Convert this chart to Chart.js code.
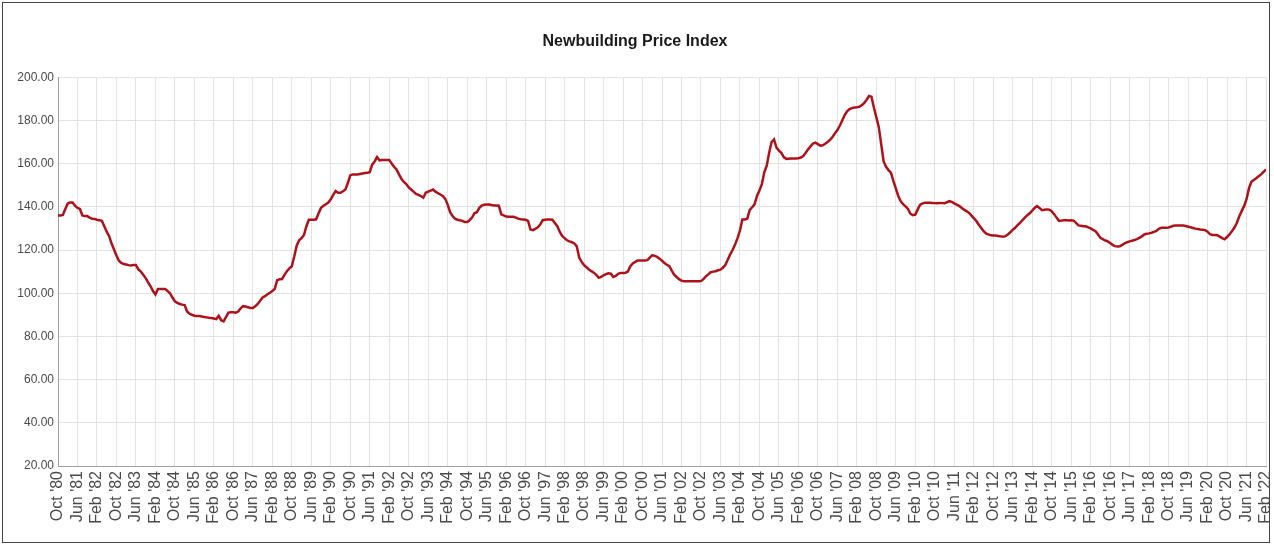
<!DOCTYPE html>
<html>
<head>
<meta charset="utf-8">
<script src="https://cdn.jsdelivr.net/npm/chart.js@4.4.0/dist/chart.umd.min.js"></script>
<style>
html,body{margin:0;padding:0;background:#fff;}
#wrap{position:absolute;left:0;top:0;width:1274px;height:547px;}
#frame{position:absolute;left:2px;top:2px;width:1268px;height:541px;border:1px solid #444;box-sizing:border-box;pointer-events:none;}
canvas{position:absolute;left:0;top:0;}
</style>
</head>
<body>
<div id="wrap"><canvas id="c" width="1274" height="547"></canvas><div id="frame"></div></div>
<script>
// Tick labels shown every 8 months (Oct '80 .. Feb '22)
const tickLabels = ["Oct '80","Jun '81","Feb '82","Oct '82","Jun '83","Feb '84","Oct '84","Jun '85","Feb '86","Oct '86","Jun '87","Feb '88","Oct '88","Jun '89","Feb '90","Oct '90","Jun '91","Feb '92","Oct '92","Jun '93","Feb '94","Oct '94","Jun '95","Feb '96","Oct '96","Jun '97","Feb '98","Oct '98","Jun '99","Feb '00","Oct '00","Jun '01","Feb '02","Oct '02","Jun '03","Feb '04","Oct '04","Jun '05","Feb '06","Oct '06","Jun '07","Feb '08","Oct '08","Jun '09","Feb '10","Oct '10","Jun '11","Feb '12","Oct '12","Jun '13","Feb '14","Oct '14","Jun '15","Feb '16","Oct '16","Jun '17","Feb '18","Oct '18","Jun '19","Feb '20","Oct '20","Jun '21","Feb '22"];

// Monthly index values, Oct 1980 onwards
const valuesPart1 = [
136,136,136.2,139,141.5,142,142,140.5,
139.5,139,136,135.7,135.7,135,134.5,134.4,
134,133.8,133.5,131,128.5,126.4,123,120.2,
117.5,115,114,113.5,113.3,113,112.8,113,
113,111,110,108.5,107,105,103.2,101,
99.4,102,102,102,102,101,100,98,
96.2,95.5,95,94.7,94.5,91.5,90.5,90,
89.6,89.5,89.4,89.2,89,88.8,88.6,88.5,
88.3,88,89.5,87.5,87,89,91,91.2,
91.2,91,91.5,93,94,93.8,93.5,93.2,
93.2,94,95,96.5,98,98.6,99.5,100.2,
101,102,106,106.5,106.6,108.5,110.2,111.5,
112.5,117,122,124.5,125.5,127,131,134,
134,134,134.2,137,139.5,140.5,141.2,142,
143.5,145.5,147.3,146.5,146.5,147.2,148,151,
154.5,155,155,155,155.2,155.4,155.6,155.8
];
const valuesPart2 = [
156,159.5,161,163,161.5,161.7,161.7,161.7,
161.7,160,158.5,157.3,155,153,151.5,150.5,
149,148,147,146,145.5,145,144.2,146.5,
147,147.5,148,147,146.3,145.7,145,143.7,
141,137.5,135.7,134.5,134,133.8,133.5,133,
133,133.8,135,137,137.5,139.5,140.6,141,
141.1,141.1,140.8,140.6,140.6,140.5,136.5,136,
135.5,135.4,135.4,135.4,135,134.5,134.2,134.1,
134,133.5,129.5,129.2,129.8,130.5,131.8,133.8,
134,134.1,134.1,134,132.5,131,128.5,126.5,
125.5,124.5,124,123.6,123,121.7,116.5,114.5,
113,112,111,110.2,109.5,108.5,107.1,107.5,
108.3,108.8,109.2,109,107.5,108,109,109.4,
109.4,109.5,110,112.5,113.8,114.5,115.1,115.1,
115.1,115.1,115.3,116.5,117.6,117.3,116.8,116,
115,114,113.2,112.5,110.5,108.6,107.5,106.5
];
const valuesPart3 = [
105.8,105.5,105.5,105.5,105.5,105.5,105.5,105.5,
105.6,106.5,107.8,108.7,109.7,110,110.2,110.6,
110.9,111.8,113,115.5,118,120,122.5,125.5,
129,134.1,134.1,134.5,138.5,139.8,141.1,145,
147.5,150.5,156,159,165,170,171.2,167.4,
166,165,163,162.2,162.3,162.4,162.4,162.4,
162.5,162.8,163.5,165,166.6,168,169.3,169.7,
169,168.3,168.5,169.2,170,171,172.3,174,
175.5,177.5,180,182.5,184.2,185.2,185.7,186,
186.1,186.3,187,188,189.5,191.3,191,186,
181.5,177,169,161,158.5,157,155.8,152,
148.5,145,142.6,141.2,140.2,139,136.8,136.1,
136.4,138.8,141,141.6,141.9,141.9,141.9,141.8,
141.7,141.6,141.8,141.7,141.6,142.1,142.6,142.3,
141.6,141,140.4,139.6,138.7,138,137.3,136,
134.8,133.5,131.8,130.3,128.8,127.7,127.2,126.8
];
const valuesPart4 = [
126.7,126.7,126.5,126.3,126.1,126.4,127.2,128.2,
129.3,130.3,131.5,132.6,133.8,135,136.1,137,
138.2,139.5,140.3,139.5,138.4,138.6,138.8,138.7,
138,136.6,135,133.5,133.6,133.8,133.8,133.7,
133.8,133.6,132.6,131.4,131.2,131,131,130.5,
130,129.3,128.7,127.3,125.6,125,124.4,124,
123.2,122.4,121.8,121.6,121.7,122.4,123.1,123.6,
124,124.3,124.6,125,125.6,126.3,127.2,127.5,
127.7,128,128.4,128.8,129.8,130.3,130.3,130.3,
130.4,130.8,131.2,131.4,131.4,131.4,131.3,131.1,
130.8,130.5,130.2,129.9,129.7,129.5,129.4,129.2,
128.5,127.3,127,127,126.8,126.2,125.5,125,
126,127.2,128.7,130.3,132.5,135.5,138,140.3,
143.5,148.5,151.6,152.4,153.2,154.2,155,156.2,
157.3
];
const indexValues = valuesPart1.concat(valuesPart2, valuesPart3, valuesPart4);
const points = indexValues.map((v, i) => ({x: i, y: v}));

const CH_W = 1274, CH_H = 547;
const PLOT_LEFT = 58, PLOT_BOTTOM = 466;
const PAD_L = 4, PAD_B = 8;

new Chart(document.getElementById('c'), {
  type: 'line',
  data: {
    datasets: [{
      label: 'Newbuilding Price Index',
      data: points,
      borderColor: '#ad121b',
      borderWidth: 2.5,
      pointRadius: 0,
      fill: false,
      tension: 0
    }]
  },
  options: {
    responsive: false,
    animation: false,
    devicePixelRatio: 1,
    layout: {padding: {left: PAD_L, right: 8, top: 10, bottom: PAD_B}},
    plugins: {
      legend: {display: false},
      tooltip: {enabled: false},
      title: {
        display: true,
        text: 'Newbuilding Price Index',
        color: '#1a1a1a',
        font: {family: "'Liberation Sans', Arial, sans-serif", size: 16, weight: 'bold'},
        padding: {top: 22, bottom: 26}
      }
    },
    scales: {
      x: {
        type: 'linear',
        min: 0,
        max: indexValues.length - 1,
        ticks: {
          stepSize: 8,
          autoSkip: false,
          minRotation: 90,
          maxRotation: 90,
          padding: 5,
          color: '#4a4a4a',
          font: {family: "'Liberation Sans', Arial, sans-serif", size: 16},
          callback: (v) => tickLabels[Math.round(v / 8)]
        },
        grid: {color: '#e3e3e3', lineWidth: 1, drawTicks: false},
        border: {color: '#a0a0a0'},
        afterFit: (s) => { s.height = CH_H - PLOT_BOTTOM - PAD_B; s.paddingRight = 0; s.paddingLeft = 0; }
      },
      y: {
        min: 20,
        max: 200,
        ticks: {
          stepSize: 20,
          padding: 4,
          color: '#4a4a4a',
          font: {family: "'Liberation Sans', Arial, sans-serif", size: 12},
          callback: (v) => Number(v).toFixed(2)
        },
        grid: {color: '#e3e3e3', lineWidth: 1, drawTicks: false},
        border: {color: '#a0a0a0'},
        afterFit: (s) => { s.width = PLOT_LEFT - PAD_L; }
      }
    }
  }
});
</script>
</body>
</html>
